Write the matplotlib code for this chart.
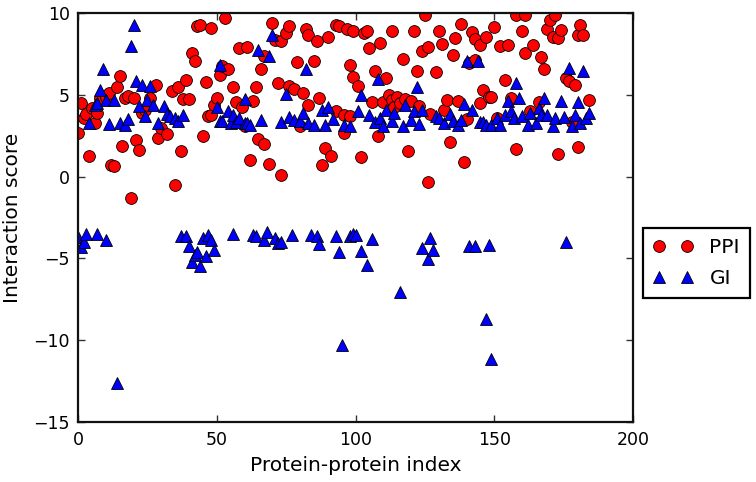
import matplotlib
matplotlib.use("Agg")
import matplotlib.pyplot as plt

# ---- data ----
ppi_x = [0, 1, 2, 3, 4, 5, 6, 7, 8, 10, 11, 12, 13, 14, 15, 16, 17, 18, 19, 20,
         21, 22, 23, 24, 26, 28, 29, 30, 32, 34, 35, 36, 37, 38, 39, 40, 41, 42,
         43, 44, 45, 46, 47, 48, 48, 49,
         50, 51, 52, 53, 54, 56, 57, 58, 59, 60, 61, 62, 63, 64, 65, 66, 67, 67,
         69, 70, 71, 72, 73, 73, 75, 76, 76, 78, 79, 80, 81, 82, 83, 83, 85, 86,
         87, 88, 89, 90, 91, 93, 93, 94, 96, 96, 97, 98, 99, 99,
         98, 101, 102, 103, 104, 105, 106, 107, 108, 109, 110, 111, 112, 113,
         113, 114, 115, 116, 117, 118, 119, 120, 121, 122, 123, 124, 125, 126,
         126, 127, 129, 130, 131, 132, 133, 134, 135, 136, 137, 138, 139, 140,
         141, 142, 143, 143, 145, 145, 146, 147, 148,
         149, 150, 151, 152, 154, 155, 156, 158, 158, 160, 161, 161, 163, 164,
         166, 167, 168, 169, 170, 171, 172, 173, 173, 174, 176, 177, 178, 179,
         180, 180, 181, 182, 184]
ppi_y = [2.66, 4.49, 3.57, 3.82, 1.27, 4.18, 3.27, 3.88, 4.79, 4.83, 5.10, 0.72,
         0.62, 5.45, 6.12, 1.88, 4.79, 4.90, -1.31, 4.79, 2.25, 1.64, 3.88, 4.08,
         4.79, 5.57, 2.35, 2.96, 2.59, 5.20, -0.50, 5.45, 1.58, 4.72, 5.91, 4.74,
         7.54, 7.07, 9.17, 9.27, 2.46, 5.77, 3.70, 9.07, 3.75, 4.35,
         4.79, 6.21, 6.73, 9.68, 6.56, 5.46, 4.55, 7.84, 4.22, 3.07, 7.88, 1.03,
         4.59, 5.46, 2.31, 6.58, 7.34, 1.99, 0.78, 9.37, 8.35, 5.71, 8.25, 0.11,
         8.76, 9.17, 5.50, 5.35, 6.99, 3.07, 5.10, 9.02, 8.66, 4.35, 7.07, 8.25,
         4.79, 0.68, 1.74, 8.50, 1.23, 9.23, 4.03, 9.17, 3.78, 2.66, 9.02, 6.80,
         8.90, 6.06,
         3.67, 5.50, 1.19, 8.76, 8.86, 7.84, 4.55, 6.42, 2.49, 8.15, 4.55, 6.01,
         4.96, 8.90, 4.69, 4.22, 4.84, 4.49, 7.19, 4.76, 1.54, 4.59, 8.86, 6.42,
         4.28, 7.64, 9.84, -0.35, 7.90, 3.82, 6.38, 8.86, 8.09, 4.08, 4.69, 2.11,
         7.44, 8.45, 4.59, 9.31, 0.89, 3.51, 6.93, 8.82, 8.41, 7.13, 8.01, 4.49,
         5.30, 8.50, 4.84,
         4.84, 9.11, 3.57, 7.95, 5.91, 8.01, 4.79, 9.84, 1.70, 8.90, 9.84, 7.54,
         4.02, 8.01, 4.53, 7.28, 6.58, 9.02, 9.57, 8.50, 9.88, 8.45, 1.39, 8.96,
         6.01, 5.85, 3.33, 5.57, 8.62, 1.83, 9.23, 8.62, 4.66]

gi_x = [4, 6, 7, 8, 9, 10, 11, 13, 15, 17, 18, 19, 20, 21, 22, 23, 24, 25, 26,
        27, 29, 31, 32, 33, 35, 36, 38,
        50, 51, 51, 52, 54, 55, 56, 57, 58, 60, 60, 61, 62, 65, 66, 69, 70, 73,
        75, 76, 78, 80, 81, 82, 83, 85, 88, 89, 90, 92, 96,
        98, 101, 102, 105, 107, 108, 109, 110, 111, 113, 114, 117, 118, 120,
        121, 122, 123, 124, 129, 130, 132, 134, 135, 137, 138, 139, 140, 142,
        144, 145, 146,
        147, 149, 151, 152, 154, 155, 156, 157, 158, 159, 160, 162, 163, 165,
        166, 167, 168, 169, 171, 172, 174, 175, 177, 178, 179, 180, 181, 182,
        183, 184,
        0, 1, 2, 3, 7, 10, 14, 37, 39, 40, 41, 42, 43, 44, 45, 46, 47, 48, 49,
        56, 63, 64, 67, 68, 71, 72, 73, 77, 84, 86, 87, 93, 94, 95, 98, 99, 100,
        102, 104, 106, 116, 124, 126, 127, 128, 141, 143, 147, 148, 149, 176]
gi_y = [3.27, 4.39, 4.50, 5.30, 6.58, 4.70, 3.21, 4.69, 3.27, 3.17, 3.50, 7.95,
        9.23, 5.81, 4.28, 5.60, 3.67, 4.69, 5.50, 4.39, 3.27, 4.28, 3.82, 3.67,
        3.57, 3.37, 3.73,
        4.22, 6.79, 3.37, 3.37, 3.97, 3.27, 3.73, 3.33, 3.57, 4.76, 3.27, 3.27,
        3.17, 7.74, 3.47, 7.34, 8.66, 3.33, 5.04, 3.61, 3.47, 3.40, 3.88, 6.55,
        3.27, 3.13, 4.08, 3.13, 4.22, 3.53, 3.13,
        3.06, 3.98, 4.96, 3.73, 3.33, 5.97, 3.57, 3.06, 4.08, 3.40, 3.88, 3.06,
        4.35, 3.47, 3.98, 5.46, 3.20, 4.08, 3.67, 3.57, 3.27, 3.82, 3.37, 3.13,
        3.47, 4.43, 7.03, 4.08, 7.03, 3.33, 3.33,
        3.17, 3.17, 3.57, 3.17, 3.77, 4.59, 3.98, 3.57, 5.71, 4.79, 3.67, 3.17,
        3.88, 3.27, 4.18, 3.77, 4.79, 3.77, 3.06, 3.57, 4.63, 3.61, 6.62, 3.06,
        3.77, 4.53, 3.27, 6.46, 3.57, 3.88,
        -3.68, -4.29, -3.98, -3.53, -3.53, -3.88, -12.63, -3.61, -3.61, -4.22,
        -5.24, -4.79, -4.63, -5.44, -3.78, -4.83, -3.57, -3.88, -4.49,
        -3.53, -3.57, -3.61, -3.88, -3.41, -3.78, -4.08, -4.02, -3.57, -3.57,
        -3.61, -4.14, -3.61, -4.59, -10.29, -3.61, -3.53, -3.57,
        -4.55, -5.37, -3.81, -7.07, -4.35, -5.04, -3.74, -4.49, -4.22, -4.22,
        -8.70, -4.18, -11.14, -4.02]

series_labels = ["PPI", "GI"]
x_label = "Protein-protein index"
y_label = "Interaction score"
x_ticks = [0, 50, 100, 150, 200]
y_ticks = [-15, -10, -5, 0, 5, 10]

# ---- figure ----
fig = plt.figure(figsize=(7.56, 4.82), dpi=100)
fig.patch.set_facecolor("white")
ax = fig.add_axes([0.1032, 0.1238, 0.7341, 0.8499])

ax.plot(ppi_x, ppi_y, linestyle="none", marker="o", markersize=8.5,
        markerfacecolor="#ff0000", markeredgecolor="black",
        markeredgewidth=0.6, label=series_labels[0])
ax.plot(gi_x, gi_y, linestyle="none", marker="^", markersize=8.5,
        markerfacecolor="#0000ff", markeredgecolor="black",
        markeredgewidth=0.6, label=series_labels[1])

ax.set_xlim(0, 200)
ax.set_ylim(-15, 10)
ax.set_xticks(x_ticks)
ax.set_yticks(y_ticks)
ax.tick_params(direction="in", length=5, width=1, top=True, right=True,
               labelsize=12.5, pad=6, color="#333333")
for s in ax.spines.values():
    s.set_linewidth(1.6)
    s.set_color("#111111")

ax.set_xlabel(x_label, fontsize=14.5, labelpad=5)
ax.set_ylabel(y_label, fontsize=14.5, labelpad=8)

leg = ax.legend(loc="upper left", bbox_to_anchor=(1.018, 0.474),
                borderaxespad=0, numpoints=2, fancybox=False, shadow=False,
                fontsize=14.5, handlelength=2.0, handletextpad=0.8,
                borderpad=0.5, labelspacing=0.6, framealpha=1)
leg.get_frame().set_edgecolor("black")
leg.get_frame().set_linewidth(1.6)

fig.savefig("out.png", dpi=100, facecolor="white")
